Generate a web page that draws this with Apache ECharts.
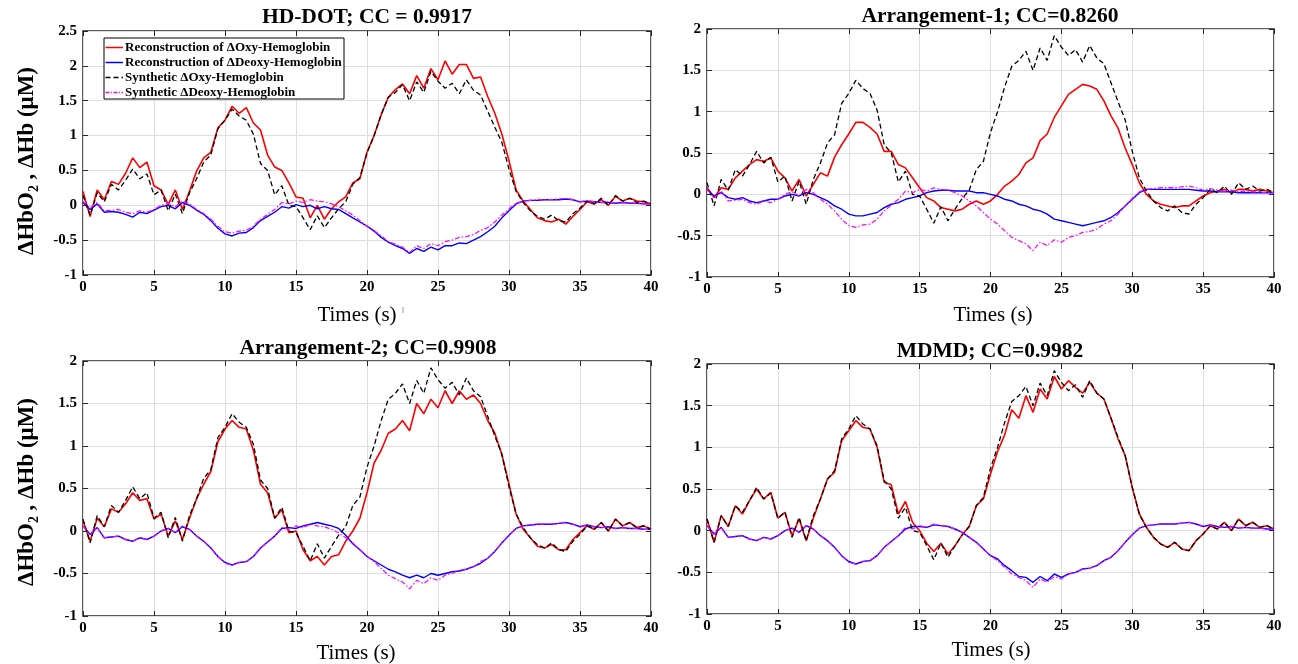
<!DOCTYPE html>
<html><head><meta charset="utf-8">
<script src="https://cdn.jsdelivr.net/npm/echarts@6/dist/echarts.min.js"></script>
<style>html,body{margin:0;padding:0;background:#fff}#c{width:1298px;height:664px}</style>
</head><body><div id="c"></div>
<script>
// time axis: 0 to 40 s, every 0.5 s
const times = Array.from({length: 81}, (_, i) => i * 0.5);

// Synthetic (ground truth) signals, shared by all panels
const synthOxy = [
 0.14,-0.14,0.18,0.05,0.30,0.22,0.36,0.52,0.38,0.45,
 0.15,0.22,-0.08,0.16,-0.12,0.18,0.38,0.62,0.72,1.10,
 1.22,1.38,1.28,1.22,1.02,0.60,0.50,0.15,0.28,0.00,
 -0.02,-0.18,-0.35,-0.15,-0.32,-0.18,-0.05,0.05,0.30,0.40,
 0.75,1.00,1.30,1.55,1.62,1.73,1.50,1.77,1.62,1.92,
 1.78,1.68,1.75,1.60,1.80,1.65,1.58,1.35,1.12,0.90,
 0.52,0.20,0.04,-0.08,-0.16,-0.20,-0.14,-0.22,-0.24,-0.12,
 -0.04,0.06,0.02,0.10,0.00,0.14,0.06,0.10,0.04,0.06,
 0.02];
const synthDeoxy = [
 0.06,-0.04,0.04,-0.08,-0.07,-0.06,-0.10,-0.12,-0.08,-0.10,
 -0.06,0.00,0.03,-0.02,0.06,0.02,-0.06,-0.12,-0.20,-0.30,
 -0.38,-0.40,-0.37,-0.36,-0.30,-0.20,-0.13,-0.06,0.04,0.02,
 0.06,0.04,0.08,0.06,0.05,0.02,-0.02,-0.08,-0.14,-0.22,
 -0.30,-0.36,-0.44,-0.52,-0.56,-0.60,-0.68,-0.58,-0.62,-0.55,
 -0.58,-0.52,-0.50,-0.46,-0.45,-0.42,-0.36,-0.32,-0.24,-0.14,
 -0.05,0.03,0.06,0.07,0.08,0.08,0.08,0.09,0.10,0.08,
 0.05,0.07,0.05,0.04,0.05,0.03,0.04,0.03,0.03,0.02,
 0.02];

// HD-DOT reconstruction
const hdOxy = [
 0.20,-0.16,0.22,0.08,0.34,0.30,0.46,0.68,0.54,0.62,
 0.28,0.22,0.01,0.22,-0.06,0.20,0.49,0.68,0.76,1.11,
 1.22,1.42,1.32,1.40,1.18,1.08,0.72,0.55,0.50,0.32,
 0.12,0.10,-0.18,0.00,-0.20,-0.05,0.05,0.12,0.32,0.38,
 0.76,1.00,1.30,1.55,1.66,1.74,1.60,1.86,1.68,1.96,
 1.80,2.07,1.88,2.02,2.02,1.82,1.84,1.56,1.32,1.02,
 0.64,0.22,0.06,-0.06,-0.18,-0.22,-0.24,-0.20,-0.27,-0.16,
 -0.06,0.05,0.02,0.08,0.00,0.13,0.06,0.10,0.06,0.05,
 0.02];
const hdDeoxy = [
 0.04,-0.06,0.02,-0.10,-0.09,-0.10,-0.13,-0.17,-0.10,-0.12,
 -0.07,-0.02,0.00,-0.05,0.04,0.00,-0.07,-0.13,-0.22,-0.33,
 -0.41,-0.44,-0.40,-0.39,-0.32,-0.22,-0.16,-0.10,-0.02,-0.04,
 0.01,-0.02,0.00,-0.05,-0.02,-0.05,-0.06,-0.12,-0.18,-0.24,
 -0.30,-0.37,-0.46,-0.53,-0.58,-0.62,-0.69,-0.62,-0.66,-0.60,
 -0.64,-0.58,-0.58,-0.54,-0.55,-0.50,-0.45,-0.38,-0.30,-0.18,
 -0.08,0.02,0.06,0.07,0.07,0.08,0.08,0.08,0.09,0.08,
 0.05,0.06,0.05,0.04,0.04,0.03,0.04,0.03,0.03,0.02,
 0.02];

// Arrangement-1 reconstruction
const a1Oxy = [
 0.08,-0.04,0.08,0.06,0.20,0.28,0.36,0.42,0.40,0.44,
 0.28,0.20,0.04,0.18,-0.02,0.12,0.26,0.22,0.45,0.60,
 0.73,0.87,0.87,0.81,0.73,0.52,0.52,0.36,0.32,0.20,
 0.08,-0.04,-0.08,-0.16,-0.18,-0.20,-0.18,-0.12,-0.08,-0.12,
 -0.08,0.00,0.10,0.16,0.24,0.38,0.44,0.65,0.73,0.93,
 1.07,1.21,1.27,1.33,1.31,1.27,1.13,0.95,0.80,0.56,
 0.36,0.14,0.00,-0.08,-0.12,-0.14,-0.16,-0.14,-0.14,-0.08,
 -0.02,0.02,0.04,0.06,0.02,0.06,0.06,0.04,0.06,0.04,
 0.02];
const a1Deoxy = [
 0.06,-0.02,0.02,-0.04,-0.06,-0.04,-0.08,-0.10,-0.08,-0.06,
 -0.06,-0.02,0.00,-0.02,0.02,0.00,-0.04,-0.08,-0.14,-0.18,
 -0.24,-0.26,-0.26,-0.24,-0.22,-0.16,-0.12,-0.10,-0.06,-0.04,
 -0.02,0.02,0.04,0.05,0.05,0.04,0.04,0.04,0.02,0.02,
 0.00,-0.02,-0.06,-0.08,-0.12,-0.14,-0.18,-0.20,-0.24,-0.30,
 -0.32,-0.34,-0.36,-0.38,-0.36,-0.34,-0.32,-0.28,-0.22,-0.14,
 -0.06,0.02,0.06,0.06,0.06,0.06,0.06,0.06,0.06,0.05,
 0.04,0.04,0.03,0.03,0.03,0.02,0.02,0.02,0.02,0.02,
 0.02];

// Arrangement-2 reconstruction
const a2Oxy = [
 0.12,-0.12,0.15,0.05,0.26,0.22,0.32,0.45,0.36,0.38,
 0.14,0.20,-0.06,0.12,-0.10,0.15,0.38,0.55,0.70,1.05,
 1.20,1.30,1.22,1.20,0.95,0.55,0.45,0.15,0.25,-0.02,
 0.00,-0.22,-0.35,-0.30,-0.40,-0.30,-0.28,-0.12,0.00,0.15,
 0.45,0.80,0.95,1.15,1.20,1.30,1.18,1.50,1.38,1.55,
 1.45,1.65,1.50,1.65,1.55,1.60,1.50,1.30,1.15,0.90,
 0.55,0.20,0.02,-0.08,-0.18,-0.20,-0.16,-0.22,-0.22,-0.10,
 -0.02,0.06,0.02,0.10,0.00,0.14,0.06,0.10,0.04,0.06,
 0.02];
const a2Deoxy = [
 0.06,-0.04,0.04,-0.08,-0.07,-0.06,-0.10,-0.12,-0.08,-0.10,
 -0.06,0.00,0.03,-0.02,0.05,0.02,-0.06,-0.12,-0.20,-0.30,
 -0.37,-0.40,-0.37,-0.36,-0.30,-0.20,-0.13,-0.06,0.03,0.04,
 0.03,0.06,0.08,0.10,0.08,0.06,0.03,-0.05,-0.15,-0.22,
 -0.30,-0.35,-0.40,-0.45,-0.48,-0.52,-0.55,-0.52,-0.55,-0.50,
 -0.52,-0.50,-0.48,-0.47,-0.45,-0.42,-0.38,-0.32,-0.24,-0.14,
 -0.05,0.03,0.06,0.07,0.08,0.08,0.08,0.09,0.10,0.08,
 0.05,0.07,0.05,0.04,0.05,0.03,0.04,0.03,0.03,0.02,
 0.02];

// MDMD reconstruction
const mdOxy = [
 0.14,-0.14,0.18,0.05,0.30,0.20,0.36,0.50,0.38,0.46,
 0.15,0.22,-0.06,0.14,-0.12,0.15,0.38,0.62,0.70,1.08,
 1.20,1.32,1.24,1.22,1.00,0.58,0.55,0.20,0.35,0.10,
 0.00,-0.15,-0.25,-0.15,-0.28,-0.18,-0.05,0.05,0.30,0.38,
 0.68,0.95,1.15,1.45,1.35,1.62,1.42,1.70,1.58,1.85,
 1.70,1.80,1.72,1.65,1.78,1.65,1.58,1.35,1.10,0.90,
 0.52,0.20,0.04,-0.08,-0.16,-0.20,-0.14,-0.22,-0.24,-0.12,
 -0.04,0.06,0.02,0.10,0.00,0.14,0.06,0.10,0.04,0.06,
 0.02];
const mdDeoxy = [
 0.06,-0.04,0.04,-0.08,-0.07,-0.06,-0.10,-0.12,-0.08,-0.10,
 -0.06,0.00,0.03,-0.02,0.06,0.02,-0.06,-0.12,-0.20,-0.30,
 -0.37,-0.40,-0.37,-0.36,-0.30,-0.20,-0.13,-0.06,0.02,0.05,
 0.05,0.04,0.07,0.06,0.05,0.02,-0.02,-0.08,-0.14,-0.22,
 -0.30,-0.34,-0.42,-0.48,-0.55,-0.56,-0.62,-0.55,-0.60,-0.52,
 -0.56,-0.52,-0.50,-0.46,-0.45,-0.42,-0.36,-0.32,-0.24,-0.14,
 -0.05,0.03,0.06,0.07,0.08,0.08,0.08,0.09,0.10,0.08,
 0.05,0.07,0.05,0.04,0.05,0.03,0.04,0.03,0.03,0.02,
 0.02];

const panelTitles = ['HD-DOT; CC = 0.9917', 'Arrangement-1; CC=0.8260', 'Arrangement-2; CC=0.9908', 'MDMD; CC=0.9982'];
const yMaxes = [2.5, 2, 2, 2];
const seriesNames = ['Reconstruction of \u0394Oxy-Hemoglobin', 'Reconstruction of \u0394Deoxy-Hemoglobin',
                     'Synthetic \u0394Oxy-Hemoglobin', 'Synthetic \u0394Deoxy-Hemoglobin'];
const xTitle = 'Times (s)';
const yTitle = '\u0394HbO\u2082 , \u0394Hb (\u03bcM)';
const recon = [[hdOxy, hdDeoxy], [a1Oxy, a1Deoxy], [a2Oxy, a2Deoxy], [mdOxy, mdDeoxy]];

// layout
const grids = [
  {left: 83, top: 31, width: 568, height: 244},
  {left: 707, top: 29, width: 567, height: 248},
  {left: 83, top: 361, width: 568, height: 255},
  {left: 707, top: 364, width: 567, height: 250}
];
const titlePos = [[367, 17], [990, 16], [368, 348], [990, 351]];
const xTitlePos = [[357, 315], [993, 315], [356, 653], [991, 650]];
const yTitlePos = [[27, 161], [27, 492]];

const FONT = 'Liberation Serif';
const frame = '#262626';
const gridCol = '#dedede';
const lineStyles = [
  {color: '#ff0000', width: 1.6, type: 'solid'},
  {color: '#0000ff', width: 1.4, type: 'solid'},
  {color: '#000000', width: 1.3, type: [5, 3]},
  {color: '#ff00ff', width: 1.2, type: [5, 2, 1.5, 2]}
];

const xAxes = [], yAxes = [], series = [], graphics = [];
const tick = {show: true, inside: true, length: 5, lineStyle: {color: frame, width: 1}};
grids.forEach((g, i) => {
  xAxes.push({
    gridIndex: i, type: 'value', min: 0, max: 40, interval: 5, position: 'bottom',
    axisLine: {show: false, onZero: false}, axisTick: tick,
    axisLabel: {fontFamily: FONT, fontWeight: 'bold', fontSize: 15, color: '#000', margin: 5},
    splitLine: {show: true, lineStyle: {color: gridCol, width: 1}}
  });
  xAxes.push({
    gridIndex: i, type: 'value', min: 0, max: 40, interval: 5, position: 'top',
    axisLine: {show: false, onZero: false}, axisLabel: {show: false}, splitLine: {show: false}, axisTick: tick
  });
  yAxes.push({
    gridIndex: i, type: 'value', min: -1, max: yMaxes[i], interval: 0.5, position: 'left',
    axisLine: {show: false, onZero: false}, axisTick: tick,
    axisLabel: {fontFamily: FONT, fontWeight: 'bold', fontSize: 15, color: '#000', margin: 6},
    splitLine: {show: true, lineStyle: {color: gridCol, width: 1}}
  });
  yAxes.push({
    gridIndex: i, type: 'value', min: -1, max: yMaxes[i], interval: 0.5, position: 'right',
    axisLine: {show: false, onZero: false}, axisLabel: {show: false}, splitLine: {show: false}, axisTick: tick
  });

  const datas = [recon[i][0], recon[i][1], synthOxy, synthDeoxy];
  datas.forEach((d, s) => {
    series.push({
      name: seriesNames[s], type: 'line', xAxisIndex: 2 * i, yAxisIndex: 2 * i,
      data: times.map((t, k) => [t, d[k]]), showSymbol: false, symbol: 'none',
      animation: false, lineStyle: lineStyles[s], itemStyle: {color: lineStyles[s].color}
    });
  });

  graphics.push({
    type: 'text', x: titlePos[i][0], y: titlePos[i][1], z: 100,
    style: {text: panelTitles[i], fontFamily: FONT, fontWeight: 'bold', fontSize: 21.5,
            fill: '#000', textAlign: 'center', textVerticalAlign: 'middle'}
  });
  graphics.push({
    type: 'text', x: xTitlePos[i][0], y: xTitlePos[i][1], z: 100,
    style: {text: xTitle, fontFamily: FONT, fontSize: 21, fill: '#000', textAlign: 'center', textVerticalAlign: 'middle'}
  });
});
yTitlePos.forEach(p => {
  graphics.push({
    type: 'text', x: p[0], y: p[1], rotation: Math.PI / 2, z: 100,
    style: {text: yTitle, fontFamily: FONT, fontWeight: 'bold', fontSize: 23, fill: '#000',
            textAlign: 'center', textVerticalAlign: 'middle'}
  });
});
// small stray mark next to the first x title
graphics.push({type: 'line', z: 100, shape: {x1: 403, y1: 307, x2: 403, y2: 313}, style: {stroke: '#999', lineWidth: 1}});

// legend box (panel 1)
const legendRows = [47.5, 62.5, 77.5, 92.5];
graphics.push({type: 'rect', z: 100, shape: {x: 104, y: 38, width: 240, height: 61},
               style: {fill: '#fff', stroke: '#000', lineWidth: 1}});
seriesNames.forEach((n, s) => {
  const ls = lineStyles[s];
  graphics.push({type: 'line', z: 101, shape: {x1: 105.5, y1: legendRows[s], x2: 123, y2: legendRows[s]},
    style: {stroke: ls.color, lineWidth: s < 2 ? 1.5 : 1.3, lineDash: s === 2 ? [5, 3] : (s === 3 ? [4, 1.5, 1, 1.5] : null)}});
  graphics.push({type: 'text', z: 101, x: 125, y: legendRows[s],
    style: {text: n, fontFamily: FONT, fontWeight: 'bold', fontSize: 13, fill: '#000', textVerticalAlign: 'middle'}});
});

const option = {
  animation: false,
  backgroundColor: '#fff',
  grid: grids.map(g => Object.assign({show: true, borderColor: frame, borderWidth: 1.5, backgroundColor: 'transparent'}, g)),
  xAxis: xAxes,
  yAxis: yAxes,
  series: series,
  graphic: graphics
};
const chart = echarts.init(document.getElementById('c'), null, {renderer: 'canvas'});
chart.setOption(option);
</script>
</body></html>
